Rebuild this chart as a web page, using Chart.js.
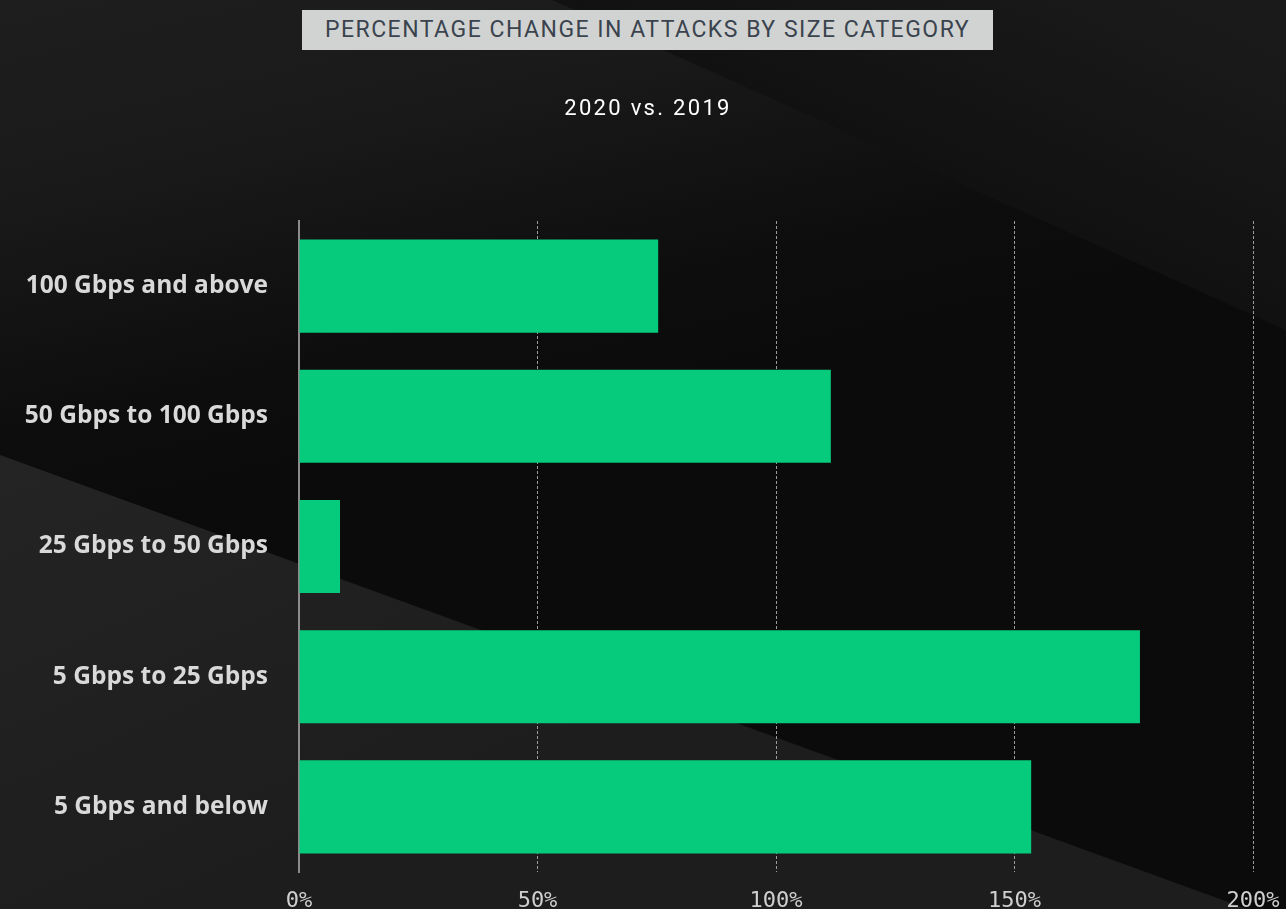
<!DOCTYPE html>
<html>
<head>
<meta charset="utf-8">
<script src="https://cdn.jsdelivr.net/npm/chart.js@4"></script>
<style>
  html, body { margin: 0; padding: 0; background: #141414; }
  #wrap { position: relative; width: 1286px; height: 909px; overflow: hidden; }
  #chart { position: absolute; left: 0; top: 0; }
  .title {
    position: absolute; left: 302px; top: 10px; width: 691px; height: 40px;
    background: #d1d3d2; color: #3a434e;
    font: 400 23px Roboto, sans-serif; letter-spacing: 1.5px;
    line-height: 40px; text-align: center; z-index: 2;
  }
  .subtitle {
    position: absolute; left: 448px; top: 94px; width: 400px; height: 28px;
    color: #ffffff; font: 400 22px Roboto, sans-serif; letter-spacing: 2.3px;
    line-height: 28px; text-align: center; z-index: 2;
  }
</style>
</head>
<body>
<div id="wrap">
  <canvas id="chart" width="1286" height="909"></canvas>
  <div class="title">PERCENTAGE CHANGE IN ATTACKS BY SIZE CATEGORY</div>
  <div class="subtitle">2020 vs. 2019</div>
</div>
<script>
// dados
const categories = [
    '100 Gbps and above',
    '50 Gbps to 100 Gbps',
    '25 Gbps to 50 Gbps',
    '5 Gbps to 25 Gbps',
    '5 Gbps and below'
];
const changePct = [75.3, 111.5, 8.6, 176.3, 153.5];
const xTicks = [0, 50, 100, 150, 200];

// fundo escuro com as faixas diagonais
const bgPlugin = {
    id: 'bg',
    beforeDraw(chart) {
        const ctx = chart.ctx;
        const w = chart.width, h = chart.height;
        ctx.save();

        let g = ctx.createLinearGradient(0, 0, 120, 520);
        g.addColorStop(0, '#1f1e1e');
        g.addColorStop(0.35, '#1a1a1a');
        g.addColorStop(0.8, '#0d0d0d');
        g.addColorStop(1, '#0b0b0b');
        ctx.fillStyle = g;
        ctx.fillRect(0, 0, w, h);

        // faixa superior direita
        ctx.beginPath();
        ctx.moveTo(552, 0);
        ctx.lineTo(w, 0);
        ctx.lineTo(w, 330);
        ctx.closePath();
        g = ctx.createLinearGradient(1000, 200, 1100, -30);
        g.addColorStop(0, '#111111');
        g.addColorStop(1, '#1a1a1a');
        ctx.fillStyle = g;
        ctx.fill();

        // faixa inferior esquerda
        ctx.beginPath();
        ctx.moveTo(0, 455);
        ctx.lineTo(w, 455 + 0.364 * w);
        ctx.lineTo(w, h + 20);
        ctx.lineTo(0, h + 20);
        ctx.closePath();
        g = ctx.createLinearGradient(0, 455, 200, 909);
        g.addColorStop(0, '#242424');
        g.addColorStop(1, '#1d1d1d');
        ctx.fillStyle = g;
        ctx.fill();

        ctx.restore();
    }
};

const ctx = document.getElementById('chart').getContext('2d');

new Chart(ctx, {
    type: 'bar',
    data: {
        labels: categories,
        datasets: [{
            data: changePct,
            backgroundColor: '#06cb7c',
            borderWidth: 0,
            barPercentage: 0.715,
            categoryPercentage: 1
        }]
    },
    options: {
        indexAxis: 'y',
        responsive: false,
        animation: false,
        layout: { padding: { top: 221, right: 33, bottom: 0, left: 0 } },
        plugins: {
            legend: { display: false },
            tooltip: { enabled: false }
        },
        scales: {
            x: {
                min: 0,
                max: 200,
                afterBuildTicks: (scale) => {
                    scale.ticks = xTicks.map(v => ({ value: v }));
                },
                afterFit: (scale) => {
                    scale.height = 37;
                    scale.paddingLeft = 0;
                    scale.paddingRight = 0;
                },
                grid: {
                    color: (c) => c.tick && c.tick.value === 0 ? 'rgba(0,0,0,0)' : '#9c9c9c',
                    lineWidth: 1,
                    drawTicks: false
                },
                border: { display: false, dash: [3, 2] },
                ticks: {
                    padding: 16,
                    color: '#cfcfcf',
                    font: { family: 'DejaVu Sans Mono', size: 22 },
                    callback: (v) => v + '%'
                }
            },
            y: {
                afterFit: (scale) => {
                    scale.width = 299;
                    scale.paddingTop = 0;
                    scale.paddingBottom = 0;
                },
                grid: { display: false, drawTicks: false },
                border: { display: true, color: '#8c8c8c', width: 2 },
                ticks: {
                    padding: 31,
                    color: '#d9d9d9',
                    font: { family: 'Open Sans', size: 24.5, weight: '700' }
                }
            }
        }
    },
    plugins: [bgPlugin]
});
</script>
</body>
</html>
